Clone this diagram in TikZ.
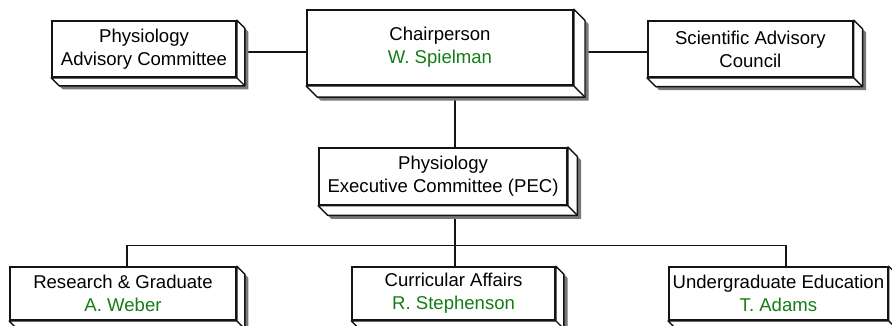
\documentclass[tikz,border=0pt]{standalone}
\usepackage{fontspec}
\setmainfont{Liberation Sans}
\usepackage{xcolor}
\usepackage{tikz}
\usetikzlibrary{positioning, calc}
\definecolor{mygreen}{RGB}{20,125,20}
\definecolor{myshade}{RGB}{120,120,120}
\definecolor{mydark}{RGB}{20,20,20}
\tikzset{
  card/.style={rectangle, draw=mydark, fill=white, align=center,
    inner sep=0pt, minimum height=1.4cm, line width=1.2pt,
    font=\fontsize{13.2}{16.4}\selectfont},
  bevel/.style={draw=mydark, fill=white, line width=1pt, line join=round},
  shadow/.style={fill=myshade},
  line/.style={line width=1pt, color=mydark}
}
\begin{document}
\begin{tikzpicture}
  \useasboundingbox (0, 0) rectangle (22.3, -8.15);

  % top row
  \node[card, minimum width=4.6cm] (pac) at (3.6, -1.225) {Physiology\\Advisory Committee};
  \node[card, minimum width=6.65cm, minimum height=1.875cm] (chair) at (11.0, -1.19) {Chairperson\\\textcolor{mygreen}{W. Spielman}};
  \node[card, minimum width=5.125cm] (sac) at (18.76, -1.225) {Scientific Advisory\\Council};

  % PEC
  \node[card, minimum width=6.2cm, minimum height=1.425cm] (pec) at (11.075, -4.41) {Physiology\\Executive Committee (PEC)};

  % bottom row
  \node[card, minimum width=5.65cm, minimum height=1.325cm] (rg) at (3.075, -7.34) {Research \& Graduate\\\textcolor{mygreen}{A. Weber}};
  \node[card, minimum width=5.075cm, minimum height=1.325cm] (ca) at (11.34, -7.34) {Curricular Affairs\\\textcolor{mygreen}{R. Stephenson}};
  \node[card, minimum width=5.475cm, minimum height=1.325cm] (ue) at (19.46, -7.34) {Undergraduate Education\\\textcolor{mygreen}{T. Adams}};

  % Links
  \draw[line] ([yshift=-0.075cm]pac.east) -- ([yshift=-0.075cm]pac.east -| chair.west);
  \draw[line] ([yshift=-0.075cm]sac.west) -- ([yshift=-0.075cm]sac.west -| chair.east);
  \draw[line] ([xshift=0.375cm]chair.south) -- ([xshift=0.375cm]chair.south |- pec.north);
  \coordinate (bus) at ([xshift=0.3cm, yshift=-1cm]pec.south);
  \draw[line] ([xshift=0.3cm]pec.south) -- ([xshift=0.3cm]pec.south |- ca.north);
  \draw[line] ([xshift=0.1cm]rg.north) |- (bus) -| ([xshift=0.19cm]ue.north);

  % 3D edges
  \foreach \n/\d in {pac/0.2, chair/0.28, sac/0.22, pec/0.24, rg/0.2, ca/0.2, ue/0.2} {
    \fill[shadow] ([shift={(0.09,-0.09)}]\n.north east) -- ([shift={(\d+0.09,-\d-0.09)}]\n.north east)
      -- ([shift={(\d+0.09,-\d-0.09)}]\n.south east) -- ([shift={(\d+0.09,-\d-0.09)}]\n.south west)
      -- ([shift={(0.09,-0.09)}]\n.south west) -- ([shift={(0.09,-0.09)}]\n.south east) -- cycle;
    \draw[bevel] (\n.north east) -- ([shift={(\d,-\d)}]\n.north east)
      -- ([shift={(\d,-\d)}]\n.south east) -- ([shift={(\d,-\d)}]\n.south west)
      -- (\n.south west) -- (\n.south east) -- cycle;
    \draw[line] (\n.south east) -- ([shift={(\d,-\d)}]\n.south east);
  }
\end{tikzpicture}
\end{document}
